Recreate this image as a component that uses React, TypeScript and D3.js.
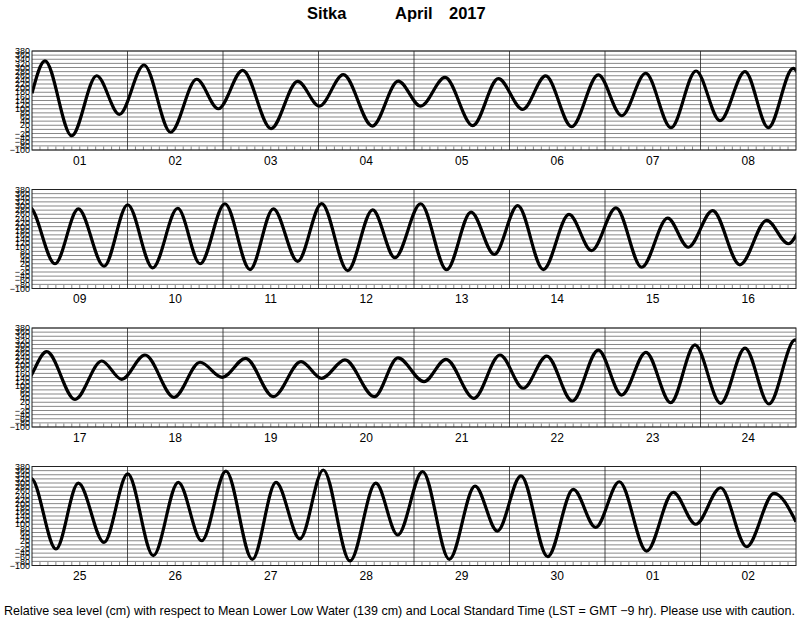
import React from 'react';
import { scaleLinear, line, curveMonotoneX, range } from 'd3';

// tide extrema: [days since Apr 1 00:00 LST, level in cm]
const week1: [number, number][] = [
  [0, 175], [0.136, 332], [0.415, -31], [0.677, 260], [0.915, 73], [1.173, 312], [1.452, -14], [1.724, 243],
  [1.951, 100], [2.206, 286], [2.503, 4], [2.782, 233], [3.009, 113], [3.26, 265], [3.564, 16], [3.835, 234],
  [4.07, 113], [4.325, 252], [4.615, 18], [4.883, 246], [5.138, 97], [5.379, 259], [5.651, 13], [5.93, 264],
  [6.175, 66], [6.426, 272], [6.691, 8], [6.953, 283], [7.204, 42], [7.466, 280], [7.71, 8], [7.97, 296],
];
const week2: [number, number][] = [
  [8.241, 20], [8.485, 286], [8.754, 8], [9.002, 306], [9.264, 0], [9.526, 289], [9.76, 20], [10.02, 311],
  [10.283, -8], [10.527, 286], [10.782, 32], [11.033, 312], [11.305, -13], [11.567, 281], [11.8, 49], [12.07, 311],
  [12.342, -9], [12.597, 270], [12.841, 65], [13.086, 302], [13.354, -8], [13.623, 259], [13.86, 84], [14.115, 291],
  [14.384, 3], [14.656, 241], [14.872, 100], [15.127, 278], [15.413, 15], [15.693, 230], [15.92, 117],
];
const week3: [number, number][] = [
  [16.154, 265], [16.45, 34], [16.73, 220], [16.939, 131], [17.183, 249], [17.487, 44], [17.76, 214], [17.993, 141],
  [18.237, 233], [18.527, 47], [18.817, 217], [19.033, 136], [19.277, 225], [19.584, 47], [19.832, 235], [20.105, 120],
  [20.335, 228], [20.628, 39], [20.9, 249], [21.145, 88], [21.39, 244], [21.658, 26], [21.93, 273], [22.175, 55],
  [22.429, 262], [22.688, 18], [22.942, 298], [23.211, 15], [23.466, 282], [23.717, 12], [23.99, 322],
];
const week4: [number, number][] = [
  [24.251, -20], [24.485, 299], [24.754, 12], [25.002, 344], [25.27, -52], [25.532, 303], [25.777, 20], [26.031, 358],
  [26.307, -70], [26.555, 303], [26.806, 29], [27.05, 363], [27.33, -78], [27.6, 299], [27.83, 48], [28.09, 355],
  [28.37, -70], [28.639, 285], [28.873, 67], [29.12, 335], [29.4, -57], [29.668, 269], [29.902, 85], [30.15, 306],
  [30.436, -30], [30.715, 255], [30.95, 100], [31.211, 277], [31.483, -9], [31.77, 250], [32, 112],
];

const dayLabels = [
  '01', '02', '03', '04', '05', '06', '07', '08',
  '09', '10', '11', '12', '13', '14', '15', '16',
  '17', '18', '19', '20', '21', '22', '23', '24',
  '25', '26', '27', '28', '29', '30', '01', '02',
];
const levelTicks = range(-100, 381, 20);
const hourTicks = range(2, 24, 2);

const W = 800;
const H = 618;
const left = 32;
const right = 796;
const panelTop = 51;
const panelStep = 138.5;
const panelH = 99;
const daysPerPanel = 8;
const font = '"Liberation Sans", Arial, Helvetica, sans-serif';

const allPoints = [...week1, ...week2, ...week3, ...week4];

const Panel = ({ idx }: { idx: number }) => {
  const top = panelTop + idx * panelStep;
  const d0 = idx * daysPerPanel;
  const x = scaleLinear().domain([d0, d0 + daysPerPanel]).range([left, right]);
  const y = scaleLinear().domain([-100, 380]).range([top + panelH, top]);
  const path = line<[number, number]>()
    .x(d => x(d[0]))
    .y(d => y(d[1]))
    .curve(curveMonotoneX)(allPoints);
  const days = range(d0, d0 + daysPerPanel);
  const clipId = `clip${idx}`;

  return (
    <g>
      <defs>
        <clipPath id={clipId}>
          <rect x={left} y={top - 2} width={right - left} height={panelH + 4} />
        </clipPath>
      </defs>
      {levelTicks.map(v => (
        <line key={'g' + v} x1={left} x2={right} y1={y(v)} y2={y(v)} stroke="#555" strokeWidth={0.7} />
      ))}
      {days.map(d =>
        hourTicks.map(h => (
          <line key={`t${d}-${h}`} x1={x(d + h / 24)} x2={x(d + h / 24)} y1={y(-100)} y2={y(-100) - 3.5}
            stroke="#555" strokeWidth={0.7} />
        ))
      )}
      {days.slice(1).map(d => (
        <line key={'d' + d} x1={x(d)} x2={x(d)} y1={top} y2={top + panelH} stroke="#222" strokeWidth={0.8} />
      ))}
      <path d={path ?? ''} fill="none" stroke="#000" strokeWidth={3.2} strokeLinejoin="round" clipPath={`url(#${clipId})`} />
      <rect x={left} y={top} width={right - left} height={panelH} fill="none" stroke="#222" strokeWidth={1} />
      {levelTicks.map(v => (
        <text key={'l' + v} x={30} y={y(v)} dy="0.35em" textAnchor="end" fontSize={9} fontFamily={font} fill="#000">
          {v < 0 ? '\u2212' + Math.abs(v) : v}
        </text>
      ))}
      {days.map(d => (
        <text key={'dl' + d} x={x(d + 0.5)} y={top + panelH + 14.5} textAnchor="middle" fontSize={12} fontFamily={font} fill="#000">
          {dayLabels[d]}
        </text>
      ))}
    </g>
  );
};

export default function App() {
  return (
    <svg width={W} height={H} viewBox={`0 0 ${W} ${H}`} style={{ position: 'absolute', left: 0, top: 0, background: '#fff' }}>
      <text x={307} y={19} fontSize={16.5} fontWeight="bold" fontFamily={font}>Sitka</text>
      <text x={395} y={19} fontSize={16.5} fontWeight="bold" fontFamily={font}>April</text>
      <text x={449} y={19} fontSize={16.5} fontWeight="bold" fontFamily={font}>2017</text>
      {[0, 1, 2, 3].map(i => <Panel key={i} idx={i} />)}
      <text x={4} y={615} fontSize={12.4} fontFamily={font} fill="#000" textLength={791} lengthAdjust="spacingAndGlyphs">
        Relative sea level (cm) with respect to Mean Lower Low Water (139 cm) and Local Standard Time (LST = GMT {'\u2212'}9 hr). Please use with caution.
      </text>
    </svg>
  );
}
